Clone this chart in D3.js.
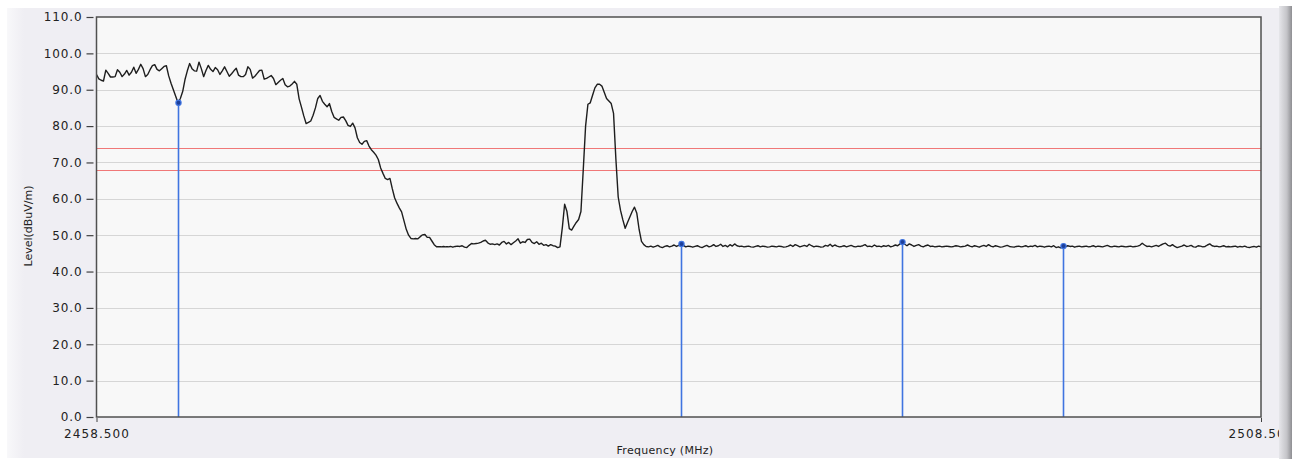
<!DOCTYPE html>
<html><head><meta charset="utf-8">
<script src="https://cdn.jsdelivr.net/npm/d3@7"></script>
<style>html,body{margin:0;padding:0;background:#fff;}svg{display:block;}</style>
</head><body>
<svg id="chart" width="1301" height="459"></svg>
<script>
// ---- data ----
const freqStart = 2458.5;   // MHz
const freqStep = 0.1;       // MHz per sample
const levels = [
94.2,93.0,92.6,92.4,95.4,94.5,93.5,93.5,93.6,95.5,
94.8,93.6,94.3,95.3,94.0,94.8,96.2,94.5,95.6,97.0,
95.8,93.6,94.2,95.5,96.6,96.9,95.6,95.2,95.8,96.4,
96.6,93.8,91.8,90.0,88.2,86.4,87.6,89.5,92.8,95.2,
97.2,95.8,95.2,95.1,97.6,95.8,93.6,95.3,96.7,95.6,
95.0,96.1,95.5,94.2,95.2,96.3,95.0,93.7,94.4,95.2,
95.9,94.0,93.6,93.6,94.2,96.3,95.6,93.2,93.7,94.5,
95.3,95.4,92.9,93.1,93.5,93.9,93.1,91.4,92.0,92.6,
93.1,91.4,90.8,91.0,91.6,92.3,91.5,87.5,85.2,82.8,
80.7,81.0,81.4,83.0,85.0,87.6,88.4,86.8,86.0,85.3,
86.2,84.0,82.4,82.0,81.6,82.4,82.5,81.5,80.2,79.9,
80.8,79.5,76.8,75.5,75.0,75.8,76.0,74.5,73.5,72.8,
72.0,70.8,68.5,67.0,65.6,65.3,65.6,62.8,60.3,58.8,
57.5,56.4,54.0,51.6,50.0,49.1,49.0,49.1,49.0,49.6,
50.1,50.2,49.4,49.4,48.4,47.4,46.8,46.8,46.8,46.9,
46.8,46.8,46.9,46.7,46.9,47.0,46.9,47.1,46.7,46.6,
47.2,47.7,47.6,47.7,47.8,48.0,48.4,48.6,47.9,47.5,
47.6,47.4,47.6,47.3,48.0,48.3,47.6,48.0,47.4,47.9,
48.4,49.0,47.8,48.2,48.0,48.8,48.9,48.0,47.7,48.2,
47.5,47.8,47.2,47.4,47.0,47.4,47.1,47.0,46.6,46.8,
52.0,58.5,56.5,51.8,51.4,52.5,53.5,54.3,56.5,68.0,
80.0,86.0,86.4,88.5,90.5,91.5,91.5,91.0,89.3,87.6,
86.9,86.2,83.5,71.0,60.5,56.8,54.2,51.9,53.5,55.0,
56.5,57.7,56.0,51.5,48.3,47.4,46.9,
46.8,47.0,46.7,46.9,47.2,46.8,46.6,46.9,47.1,46.8,
47.0,47.3,46.9,47.2,47.6,47.2,46.8,47.0,46.9,46.7,
46.9,47.1,46.8,46.6,46.9,47.2,46.8,47.0,47.4,46.9,
47.1,47.5,46.9,47.2,46.8,47.4,47.0,47.6,47.1,46.9,
47.0,46.8,46.9,47.0,46.8,46.7,46.9,47.1,46.8,47.0,
46.9,46.7,46.8,47.0,46.9,46.8,47.0,46.9,46.7,46.8,
47.0,47.3,46.9,47.4,47.1,46.8,47.0,47.2,46.9,47.5,
47.1,46.8,47.0,46.9,46.7,46.8,47.2,47.0,47.5,46.9,
47.3,47.0,46.8,46.9,47.1,46.8,47.0,47.2,46.9,46.8,
47.0,46.9,47.1,47.4,46.9,47.0,46.8,47.3,46.9,47.0,
46.8,47.1,46.9,47.2,46.8,47.0,47.3,47.1,47.6,48.1,
47.5,47.1,47.6,47.3,46.9,47.2,47.4,47.0,46.8,47.1,
47.3,46.9,47.0,46.8,46.9,47.0,46.8,46.9,47.0,46.9,
46.8,46.9,47.1,47.0,46.8,46.9,47.0,47.3,47.0,46.8,
47.1,46.9,46.7,47.0,47.2,46.9,47.4,47.0,46.8,47.1,
46.9,46.7,46.8,47.0,47.2,46.9,46.8,46.7,46.9,47.0,
46.8,46.9,47.1,46.8,47.0,46.9,47.2,46.8,47.0,46.9,
46.7,46.9,47.0,46.8,47.1,46.6,46.8,46.5,47.0,46.8,
47.1,46.9,47.0,46.7,46.9,47.0,46.8,46.9,47.0,46.8,
46.9,47.1,46.8,47.0,46.9,46.8,47.0,47.2,46.9,46.8,
47.0,46.9,46.8,47.0,46.9,46.8,46.9,47.0,46.8,46.9,
47.0,47.2,47.8,47.3,46.9,47.0,46.8,47.0,47.2,46.9,
47.3,47.6,47.8,47.2,47.0,47.4,46.9,46.6,46.8,47.0,
47.3,46.9,47.0,47.2,46.8,46.7,47.1,47.0,46.8,46.9,
47.3,47.6,47.1,46.9,47.0,46.8,46.9,47.1,46.8,46.9,
46.8,46.9,47.0,46.7,46.9,46.8,47.0,46.7,46.6,46.8,
46.9,46.7,47.0,46.8
];
const markerFreqs = [2462.0, 2483.6, 2493.1, 2500.0];
const markerLevels = [86.4, 47.6, 48.1, 47.0];
const limitLevels = [74, 68];
const yTicks = [0,10,20,30,40,50,60,70,80,90,100,110];
const xTicks = [2458.5, 2508.5];
const xDomain = [2458.5, 2508.5];
const yDomain = [0, 110];
const xTitle = "Frequency (MHz)";
const yTitle = "Level(dBuV/m)";

// ---- layout ----
const svg = d3.select("#chart");
const L = 96.5, R = 1261, T = 17, B = 417;
const x = d3.scaleLinear().domain(xDomain).range([L, R]);
const y = d3.scaleLinear().domain(yDomain).range([B, T]);

// panel background
const defs = svg.append("defs");
const lg = defs.append("linearGradient").attr("id","leftg").attr("x1","0").attr("x2","1").attr("y1","0").attr("y2","0");
lg.append("stop").attr("offset","0").attr("stop-color","#f8f8fa");
lg.append("stop").attr("offset","1").attr("stop-color","#efeef3");
svg.append("rect").attr("x",7).attr("y",8).attr("width",1275).attr("height",450).attr("fill","#efeef3");
svg.append("rect").attr("x",7).attr("y",8).attr("width",17).attr("height",450).attr("fill","url(#leftg)");

// plot area
svg.append("rect").attr("x",L).attr("y",T).attr("width",R-L).attr("height",B-T).attr("fill","#f8f8f8");

// grid
svg.append("g").selectAll("line").data(yTicks.filter(d=>d>0 && d<110)).join("line")
  .attr("x1",L).attr("x2",R).attr("y1",d=>Math.round(y(d))+0.5).attr("y2",d=>Math.round(y(d))+0.5)
  .attr("stroke","#d6d6d6").attr("stroke-width",1.2);

// limit lines
svg.append("g").selectAll("line").data(limitLevels).join("line")
  .attr("x1",L).attr("x2",R).attr("y1",d=>Math.round(y(d))+0.5).attr("y2",d=>Math.round(y(d))+0.5)
  .attr("stroke","#f07878").attr("stroke-width",1.2);

// trace
const trace = levels.map((v,i)=>({f: freqStart + i*freqStep, v}));
svg.append("path").datum(trace)
  .attr("d", d3.line().x(d=>x(d.f)).y(d=>y(d.v)))
  .attr("fill","none").attr("stroke","#1e1e1e").attr("stroke-width",1.4).attr("stroke-linejoin","round");

// markers
const mk = markerFreqs.map((f,i)=>({f, v: markerLevels[i]}));
svg.append("g").selectAll("line").data(mk).join("line")
  .attr("x1",d=>Math.round(x(d.f))+0.5).attr("x2",d=>Math.round(x(d.f))+0.5)
  .attr("y1",d=>y(d.v)).attr("y2",B)
  .attr("stroke","#3f74e0").attr("stroke-width",1.6);
svg.append("g").selectAll("circle").data(mk).join("circle")
  .attr("cx",d=>Math.round(x(d.f))+0.5).attr("cy",d=>y(d.v)).attr("r",2.6)
  .attr("fill","#1d3f9a").attr("stroke","#3f74e0").attr("stroke-width",1.2);

// border
svg.append("rect").attr("x",L).attr("y",T).attr("width",R-L).attr("height",B-T)
  .attr("fill","none").attr("stroke","#505050").attr("stroke-width",1.5);

// y axis
const yAxis = d3.axisLeft(y).tickValues(yTicks).tickFormat(d3.format(".1f")).tickSize(7).tickPadding(4);
const gy = svg.append("g").attr("transform",`translate(${L-3},0)`).call(yAxis);
gy.select(".domain").remove();
gy.selectAll(".tick line").attr("stroke","#404040").attr("stroke-width",1.2);
gy.selectAll("text").attr("font-family","DejaVu Sans, Verdana, sans-serif").attr("font-size","12px")
  .attr("letter-spacing","0.9px").attr("fill","#222");

// x axis
const xAxis = d3.axisBottom(x).tickValues(xTicks).tickFormat(d3.format(".3f")).tickSize(4).tickPadding(7);
const gx = svg.append("g").attr("transform",`translate(0,${B+1})`).call(xAxis);
gx.select(".domain").remove();
gx.selectAll(".tick line").attr("stroke","#404040");
gx.selectAll("text").attr("font-family","DejaVu Sans, Verdana, sans-serif").attr("font-size","12px")
  .attr("letter-spacing","1.1px").attr("fill","#222");

// titles
svg.append("text").attr("x",665).attr("y",454).attr("text-anchor","middle")
  .attr("font-family","DejaVu Sans, Verdana, sans-serif").attr("font-size","11px").attr("fill","#222")
  .attr("letter-spacing","0.3px").text(xTitle);
svg.append("text").attr("transform","translate(32,226) rotate(-90)").attr("text-anchor","middle")
  .attr("font-family","DejaVu Sans, Verdana, sans-serif").attr("font-size","11px").attr("fill","#222")
  .text(yTitle);

// right-hand scroll bar strip and white margin beyond it
const rg = defs.append("linearGradient").attr("id","rightg").attr("x1","0").attr("x2","1").attr("y1","0").attr("y2","0");
rg.append("stop").attr("offset","0").attr("stop-color","#e6e6ea");
rg.append("stop").attr("offset","0.6").attr("stop-color","#c4c4c8");
rg.append("stop").attr("offset","1").attr("stop-color","#8e8e92");
svg.append("rect").attr("x",1292).attr("y",0).attr("width",9).attr("height",459).attr("fill","#ffffff");
svg.append("rect").attr("x",1279).attr("y",6).attr("width",13).attr("height",453).attr("fill","url(#rightg)");
</script>
</body></html>
